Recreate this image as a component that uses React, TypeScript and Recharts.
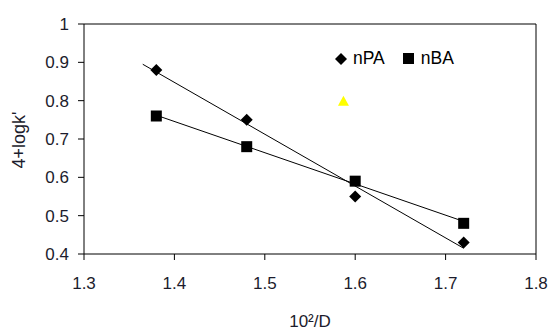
import React from 'react';
import {
  ScatterChart,
  Scatter,
  XAxis,
  YAxis,
  ReferenceLine,
} from 'recharts';

// measured points
const nPA = [
  { x: 1.38, y: 0.88 },
  { x: 1.48, y: 0.75 },
  { x: 1.6, y: 0.55 },
  { x: 1.72, y: 0.43 },
];
const nBA = [
  { x: 1.38, y: 0.76 },
  { x: 1.48, y: 0.68 },
  { x: 1.6, y: 0.59 },
  { x: 1.72, y: 0.48 },
];
const extraPoint = [{ x: 1.587, y: 0.8 }];

// trend line ends
const nPATrend = [
  { x: 1.365, y: 0.895 },
  { x: 1.72, y: 0.415 },
];
const nBATrend = [
  { x: 1.38, y: 0.762 },
  { x: 1.72, y: 0.485 },
];

const xTicks = [1.3, 1.4, 1.5, 1.6, 1.7, 1.8];
const yTicks = [0.4, 0.5, 0.6, 0.7, 0.8, 0.9, 1];

const FONT = 'Liberation Sans, Arial, sans-serif';
const TEXT = '#1c1c2c';

const Diamond = (props: any) => {
  const { cx, cy } = props;
  const r = 6;
  return (
    <path
      d={`M${cx},${cy - r} L${cx + r},${cy} L${cx},${cy + r} L${cx - r},${cy} Z`}
      fill="#000"
    />
  );
};

const Square = (props: any) => {
  const { cx, cy } = props;
  return <rect x={cx - 5.5} y={cy - 5.5} width={11} height={11} fill="#000" />;
};

const Triangle = (props: any) => {
  const { cx, cy } = props;
  return (
    <path
      d={`M${cx},${cy - 5} L${cx + 5.5},${cy + 5} L${cx - 5.5},${cy + 5} Z`}
      fill="#ffff00"
    />
  );
};

const NoDot = () => <g />;

export default function App() {
  return (
    <div style={{ position: 'absolute', left: 0, top: 0, width: 551, height: 332, background: '#fff' }}>
      <ScatterChart
        width={551}
        height={332}
        margin={{ top: 24, right: 15, left: 24, bottom: 48 }}
      >
        <XAxis
          type="number"
          dataKey="x"
          domain={[1.3, 1.8]}
          ticks={xTicks}
          tickFormatter={(v: number) => String(v)}
          stroke="#000"
          tickSize={6}
          tickMargin={17}
          height={30}
          tick={{ fill: TEXT, fontSize: 17, fontFamily: FONT }}
          allowDataOverflow
        />
        <YAxis
          type="number"
          dataKey="y"
          domain={[0.4, 1]}
          ticks={yTicks}
          tickFormatter={(v: number) => String(v)}
          stroke="#000"
          tickSize={6}
          tickMargin={9}
          width={60}
          tick={{ fill: TEXT, fontSize: 17, fontFamily: FONT }}
          allowDataOverflow
        />
        <ReferenceLine y={1} stroke="#000" />
        <ReferenceLine x={1.8} stroke="#000" />
        <Scatter
          data={nPATrend}
          line={{ stroke: '#000', strokeWidth: 1 }}
          shape={NoDot}
          isAnimationActive={false}
        />
        <Scatter
          data={nBATrend}
          line={{ stroke: '#000', strokeWidth: 1 }}
          shape={NoDot}
          isAnimationActive={false}
        />
        <Scatter name="nPA" data={nPA} shape={Diamond} isAnimationActive={false} />
        <Scatter name="nBA" data={nBA} shape={Square} isAnimationActive={false} />
        <Scatter data={extraPoint} shape={Triangle} isAnimationActive={false} />
      </ScatterChart>
      {/* legend */}
      <div
        style={{
          position: 'absolute',
          left: 335,
          top: 48,
          fontFamily: FONT,
          fontSize: 17.5,
          color: '#000',
          display: 'flex',
          alignItems: 'center',
          whiteSpace: 'nowrap',
        }}
      >
        <svg width={12} height={12} style={{ marginRight: 6 }}>
          <path d="M6,0 L12,6 L6,12 L0,6 Z" fill="#000" />
        </svg>
        <span>nPA</span>
        <svg width={11} height={11} style={{ marginLeft: 18, marginRight: 7 }}>
          <rect x={0} y={0} width={11} height={11} fill="#000" />
        </svg>
        <span>nBA</span>
      </div>
      <div
        style={{
          position: 'absolute',
          left: 0,
          top: 0,
          width: 551,
          height: 332,
          pointerEvents: 'none',
        }}
      >
        <svg width={551} height={332}>
          <text
            x={310}
            y={327}
            textAnchor="middle"
            fontFamily={FONT}
            fontSize={17}
            fill={TEXT}
          >
            10²/D
          </text>
          <text
            x={25}
            y={140}
            textAnchor="middle"
            fontFamily={FONT}
            fontSize={18}
            fill={TEXT}
            transform="rotate(-90 25 140)"
          >
            4+logk'
          </text>
        </svg>
      </div>
    </div>
  );
}
